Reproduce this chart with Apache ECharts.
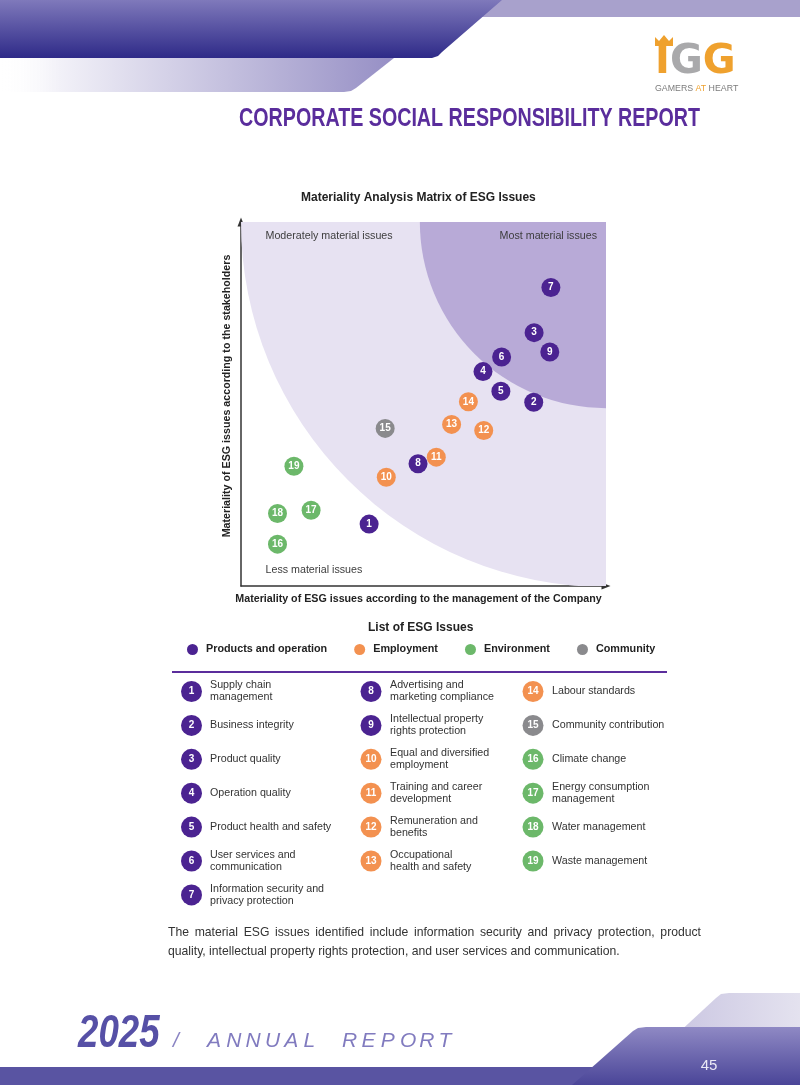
<!DOCTYPE html>
<html>
<head>
<meta charset="utf-8">
<title>Materiality Analysis Matrix of ESG Issues</title>
<script src="https://cdn.jsdelivr.net/npm/echarts@6.0.0/dist/echarts.min.js"></script>
<style>
  html, body { margin: 0; padding: 0; background: #fff; }
  #page { position: relative; width: 800px; height: 1085px; overflow: hidden; }
  #chart { position: absolute; left: 0; top: 0; width: 800px; height: 1085px; }
  .note {
    position: absolute; left: 168px; top: 923px; width: 533px; margin: 0;
    font: 12.2px "Liberation Sans", Arial, sans-serif; line-height: 19px;
    color: #333; text-align: justify; text-align-last: left;
  }
</style>
</head>
<body>
<div id="page">
  <div id="chart"></div>
  <p class="note">The material ESG issues identified include information security and privacy protection, product quality, intellectual property rights protection, and user services and communication.</p>
</div>
<script>
// ---- data ----
var issueNo = [1, 2, 3, 4, 5, 6, 7, 8, 9, 10, 11, 12, 13, 14, 15, 16, 17, 18, 19];
var issueName = [
  "Supply chain\nmanagement",
  "Business integrity",
  "Product quality",
  "Operation quality",
  "Product health and safety",
  "User services and\ncommunication",
  "Information security and\nprivacy protection",
  "Advertising and\nmarketing compliance",
  "Intellectual property\nrights protection",
  "Equal and diversified\nemployment",
  "Training and career\ndevelopment",
  "Remuneration and\nbenefits",
  "Occupational\nhealth and safety",
  "Labour standards",
  "Community contribution",
  "Climate change",
  "Energy consumption\nmanagement",
  "Water management",
  "Waste management"
];
// index into groupNames
var issueGroup = [0, 0, 0, 0, 0, 0, 0, 0, 0, 1, 1, 1, 1, 1, 3, 2, 2, 2, 2];
var groupNames = ["Products and operation", "Employment", "Environment", "Community"];
// materiality to management (x) and to stakeholders (y), 0-100
var mgmtScore  = [35.1, 80.2, 80.3, 66.3, 71.2, 71.4, 84.9, 48.5, 84.6, 39.8, 53.5, 66.5, 57.7, 62.3, 39.5, 10.0, 19.2, 10.0, 14.5];
var stakeScore = [17.0, 50.5, 69.6, 58.9, 53.5, 62.9, 82.0, 33.6, 64.3, 29.9, 35.4, 42.7, 44.4, 50.6, 43.3, 11.5, 20.8, 19.9, 32.9];
// zone boundaries: radius from the top-right corner, in axis units
var zoneRadius = [100, 51];
var zoneLabels = ["Moderately material issues", "Most material issues", "Less material issues"];
// which issues go in each column of the list
var listColumns = [[1, 2, 3, 4, 5, 6, 7], [8, 9, 10, 11, 12, 13], [14, 15, 16, 17, 18, 19]];

// ---- styles ----
var groupColors = ["#4b2391", "#f39150", "#6cb86a", "#8a8a8d"];
var zoneColors = ["#e7e2f2", "#b8aad7"];
var font = '"Liberation Sans", Arial, sans-serif';

var chart = echarts.init(document.getElementById('chart'));

var scatterSeries = groupNames.map(function (g, gi) {
  var pts = [];
  for (var i = 0; i < issueNo.length; i++) {
    if (issueGroup[i] === gi) pts.push([mgmtScore[i], stakeScore[i], issueNo[i]]);
  }
  return {
    name: g,
    type: 'scatter',
    z: 5,
    symbol: 'circle',
    symbolSize: 19,
    itemStyle: { color: groupColors[gi], opacity: 1 },
    label: {
      show: true,
      position: 'inside',
      formatter: function (p) { return p.value[2]; },
      color: '#fff',
      fontWeight: 'bold',
      fontSize: 10,
      fontFamily: font
    },
    emphasis: { disabled: true },
    data: pts
  };
});

var zoneSeries = {
  type: 'custom',
  silent: true,
  z: 1,
  clip: true,
  data: zoneRadius.map(function (r, i) { return [r, i]; }),
  renderItem: function (params, api) {
    var corner = api.coord([100, 100]);
    var r = api.size([api.value(0), 0])[0];
    return {
      type: 'sector',
      shape: { cx: corner[0], cy: corner[1], r0: 0, r: r, startAngle: Math.PI / 2, endAngle: Math.PI, clockwise: true },
      style: { fill: zoneColors[api.value(1)] }
    };
  }
};

function lg(x, y, x2, y2, stops) {
  return {
    type: 'linear', x: x, y: y, x2: x2, y2: y2, global: false,
    colorStops: stops.map(function (c) { return { offset: c[0], color: c[1] }; })
  };
}

function txt(x, y, text, opt) {
  var s = {
    text: text, fill: opt.fill || '#333', fontSize: opt.size || 10, fontWeight: opt.weight || 'normal',
    fontStyle: opt.style || 'normal', fontFamily: opt.family || font,
    align: opt.align || 'left', verticalAlign: 'middle'
  };
  if (opt.lineHeight) s.lineHeight = opt.lineHeight;
  if (opt.rich) s.rich = opt.rich;
  return { type: 'text', x: x, y: y, z: 100, scaleX: opt.scaleX || 1, style: s, silent: true };
}

function poly(points, fill) {
  return { type: 'polygon', shape: { points: points }, style: { fill: fill }, silent: true };
}

var els = [];
// header bands
els.push({ type: 'rect', shape: { x: 0, y: 0, width: 800, height: 17 }, style: { fill: '#a8a1cc' }, silent: true });
els.push(poly([[0, 0], [502, 0], [442, 52], [438, 56], [432, 58], [0, 58]],
  lg(0, 0, 0, 1, [[0, '#7f79bb'], [1, '#2e2a88']])));
els.push(poly([[0, 58], [394, 58], [356, 88], [351, 91], [344, 92], [0, 92]],
  lg(0, 0, 1, 0, [[0, 'rgba(255,255,255,0)'], [0.15, '#f2f1f8'], [1, '#968fc5']])));
// logo
els.push(poly([[655, 46], [655, 37], [659, 41], [664, 35], [669, 41], [673, 37], [673, 46]], '#efa12e'));
els.push(txt(655, 63, '{a|I}{b|G}{a|G}', { size: 40,
  rich: { a: { fill: '#efa12e', fontSize: 40, fontWeight: 'bold', fontFamily: '"DejaVu Sans", sans-serif' },
          b: { fill: '#a9a9ab', fontSize: 40, fontWeight: 'bold', fontFamily: '"DejaVu Sans", sans-serif' } } }));
els.push(txt(655, 89, '{g|GAMERS }{o|AT}{g| HEART}', { size: 8,
  rich: { g: { fill: '#7c7c7c', fontSize: 8.8, fontFamily: font }, o: { fill: '#efa12e', fontSize: 8.8, fontFamily: font } } }));
// page title
els.push(txt(700, 119, 'CORPORATE SOCIAL RESPONSIBILITY REPORT',
  { size: 25, weight: 'bold', fill: '#5a2d9c', align: 'right', scaleX: 0.787 }));
// zone labels
els.push(txt(265.5, 236, zoneLabels[0], { size: 10.7, fill: '#3d3d3d' }));
els.push(txt(597, 236, zoneLabels[1], { size: 10.7, fill: '#3d3d3d', align: 'right' }));
els.push(txt(265.5, 570, zoneLabels[2], { size: 10.7, fill: '#3d3d3d' }));
// list separator
els.push({ type: 'rect', shape: { x: 172, y: 671, width: 495, height: 2 }, style: { fill: '#5b2d9c' }, silent: true });
// issue list
var badgeX = [191.5, 371, 533];
var nameX = [210, 390, 552];
var listTop = 691.5, listStep = 33.9;
listColumns.forEach(function (col, c) {
  col.forEach(function (no, r) {
    var i = no - 1;
    var cy = listTop + r * listStep;
    els.push({ type: 'circle', shape: { cx: badgeX[c], cy: cy, r: 10.5 }, style: { fill: groupColors[issueGroup[i]] }, silent: true });
    els.push(txt(badgeX[c], cy, String(no), { size: 10, weight: 'bold', fill: '#fff', align: 'center' }));
    els.push(txt(nameX[c], cy, issueName[i], { size: 10.7, fill: '#333', lineHeight: 12 }));
  });
});
// footer
els.push(poly([[676, 1035], [716, 998], [721, 994], [729, 993], [800, 993], [800, 1035]],
  lg(0, 0, 1, 0, [[0, '#cbc7e2'], [1, '#e4e2ef']])));
els.push({ type: 'rect', shape: { x: 0, y: 1067, width: 800, height: 18 }, style: { fill: '#5954a2' }, silent: true });
els.push(poly([[572, 1085], [633, 1031], [638, 1028], [646, 1027], [800, 1027], [800, 1085]],
  lg(0, 0, 0, 1, [[0, '#8f89c4'], [1, '#4a4598']])));
els.push(txt(709, 1066, '45', { size: 15, fill: '#ebe9f5', align: 'center' }));
els.push(txt(78, 1034, '2025', { size: 47, weight: 'bold', style: 'italic', fill: '#5650a6', scaleX: 0.78 }));
els.push(txt(173, 1041, '/', { size: 21, style: 'italic', fill: '#8a84c3' }));
'ANNUAL REPORT'.split('').forEach(function (ch, k) {
  if (ch !== ' ') els.push(txt(207 + k * 19.3, 1041, ch, { size: 21, style: 'italic', fill: '#817bbf' }));
});

var option = {
  animation: false,
  backgroundColor: 'transparent',
  textStyle: { fontFamily: font },
  title: [
    { text: 'Materiality Analysis Matrix of ESG Issues', left: 296, top: 187,
      textStyle: { fontSize: 12, fontWeight: 'bold', color: '#222', fontFamily: font } },
    { text: 'List of ESG Issues', left: 363, top: 617,
      textStyle: { fontSize: 12, fontWeight: 'bold', color: '#222', fontFamily: font } }
  ],
  legend: {
    data: groupNames,
    left: 182,
    top: 639,
    icon: 'circle',
    itemWidth: 11,
    itemHeight: 11,
    itemGap: 27,
    selectedMode: false,
    textStyle: { fontSize: 10.8, fontWeight: 'bold', color: '#222', fontFamily: font, padding: [0, 0, 0, 3] }
  },
  grid: { left: 241, top: 222, width: 365, height: 364 },
  xAxis: {
    type: 'value', min: 0, max: 100,
    name: 'Materiality of ESG issues according to the management of the Company',
    nameLocation: 'middle', nameGap: 8,
    nameTextStyle: { fontSize: 10.7, fontWeight: 'bold', color: '#222', padding: [0, 10, 0, 0] },
    axisLine: { show: true, symbol: ['none', 'triangle'], symbolSize: [7, 9], lineStyle: { color: '#333', width: 1.5 } },
    axisTick: { show: false }, axisLabel: { show: false }, splitLine: { show: false }
  },
  yAxis: {
    type: 'value', min: 0, max: 100,
    name: 'Materiality of ESG issues according to the stakeholders',
    nameLocation: 'middle', nameGap: 8,
    nameTextStyle: { fontSize: 10.7, fontWeight: 'bold', color: '#222', padding: [0, 0, 0, 16] },
    axisLine: { show: true, symbol: ['none', 'triangle'], symbolSize: [7, 9], lineStyle: { color: '#333', width: 1.5 } },
    axisTick: { show: false }, axisLabel: { show: false }, splitLine: { show: false }
  },
  graphic: { elements: els },
  series: [zoneSeries].concat(scatterSeries)
};

chart.setOption(option);
</script>
</body>
</html>
